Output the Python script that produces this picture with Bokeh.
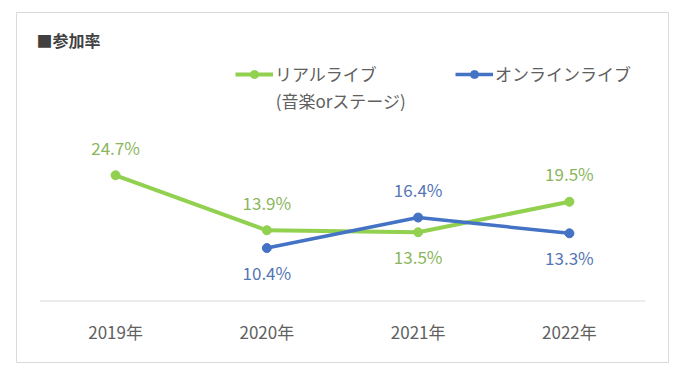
from bokeh.plotting import figure
from bokeh.models import (ColumnDataSource, FactorRange, Range1d, Legend,
                          LegendItem, Label, CDSView, IndexFilter)
from bokeh.transform import dodge
from bokeh.core.properties import value
from bokeh.embed import file_html
from bokeh.resources import INLINE

# ---- data ----
years = ["2019年", "2020年", "2021年", "2022年"]
real_live = [24.7, 13.9, 13.5, 19.5]
online_years = ["2020年", "2021年", "2022年"]
online_live = [10.4, 16.4, 13.3]
real_label_above = [True, True, False, True]
online_label_above = [False, True, False]
title_text = "■参加率"
real_name = "リアルライブ"
real_subname = "(音楽orステージ)"
online_name = "オンラインライブ"

# ---- style ----
FONT = "Noto Sans CJK JP"
GREEN = "#92d050"
BLUE = "#4472c4"
GREEN_TXT = "#8ab65c"
BLUE_TXT = "#5575b5"
GRAY_TXT = "#606060"

p = figure(width=676, height=370,
           x_range=FactorRange(*years, range_padding=0.155, range_padding_units="absolute"),
           y_range=Range1d(-12.08, 56.68),
           x_axis_location=None, y_axis_location=None,
           output_backend="svg", toolbar_location=None,
           min_border_left=16, min_border_right=8, min_border_top=12, min_border_bottom=8)
p.outline_line_color = "#d9d9d9"
p.background_fill_color = "white"
p.border_fill_color = "white"
p.xgrid.visible = False
p.ygrid.visible = False

# baseline (y = 0)
base = ColumnDataSource(dict(x0=[years[0]], x1=[years[-1]], y=[0]))
p.segment(x0=dodge("x0", -0.5, range=p.x_range), y0="y",
          x1=dodge("x1", 0.5, range=p.x_range), y1="y",
          source=base, line_color="#d9d9d9", line_width=1)

# category labels
cat = ColumnDataSource(dict(x=years, y=[0] * len(years), t=years))
p.text("x", "y", text="t", source=cat, y_offset=30, text_align="center",
       text_baseline="middle", text_font=value(FONT), text_font_size="17px",
       text_color=GRAY_TXT)

# series
src_r = ColumnDataSource(dict(x=years, y=real_live, t=[f"{v}%" for v in real_live]))
src_o = ColumnDataSource(dict(x=online_years, y=online_live, t=[f"{v}%" for v in online_live]))

r_line = p.line("x", "y", source=src_r, line_color=GREEN, line_width=4)
r_pts = p.scatter("x", "y", source=src_r, size=9, color=GREEN)
o_line = p.line("x", "y", source=src_o, line_color=BLUE, line_width=3.5)
o_pts = p.scatter("x", "y", source=src_o, size=9, color=BLUE)

def add_labels(src, above_flags, color):
    above = [i for i, a in enumerate(above_flags) if a]
    below = [i for i, a in enumerate(above_flags) if not a]
    common = dict(text_align="center", text_baseline="middle",
                  text_font=value(FONT), text_font_size="17px", text_color=color)
    if above:
        p.text("x", "y", text="t", source=src, view=CDSView(filter=IndexFilter(above)),
               y_offset=-28, **common)
    if below:
        p.text("x", "y", text="t", source=src, view=CDSView(filter=IndexFilter(below)),
               y_offset=24, **common)

add_labels(src_r, real_label_above, GREEN_TXT)
add_labels(src_o, online_label_above, BLUE_TXT)

# legends
leg_common = dict(orientation="horizontal", padding=0, margin=0,
                  border_line_alpha=0, background_fill_alpha=0,
                  glyph_width=38, glyph_height=20, label_standoff=2,
                  label_text_font=FONT, label_text_font_size="17px",
                  label_text_color=GRAY_TXT)
leg1 = Legend(items=[LegendItem(label=real_name, renderers=[r_line, r_pts])],
              location=(219, 276), **leg_common)
leg2 = Legend(items=[LegendItem(label=online_name, renderers=[o_line, o_pts])],
              location=(439, 276), **leg_common)
p.add_layout(leg1)
p.add_layout(leg2)

p.add_layout(Label(x=1.558, y=39.4, text=real_subname, text_font=FONT,
                   text_font_size="17px", text_color=GRAY_TXT,
                   text_align="left", text_baseline="middle"))
p.add_layout(Label(x=-0.022, y=51.2, text=title_text, text_font=FONT,
                   text_font_style="bold", text_font_size="16px", text_color="#404040",
                   text_align="left", text_baseline="middle"))

open("out.html", "w").write(file_html(p, INLINE))
